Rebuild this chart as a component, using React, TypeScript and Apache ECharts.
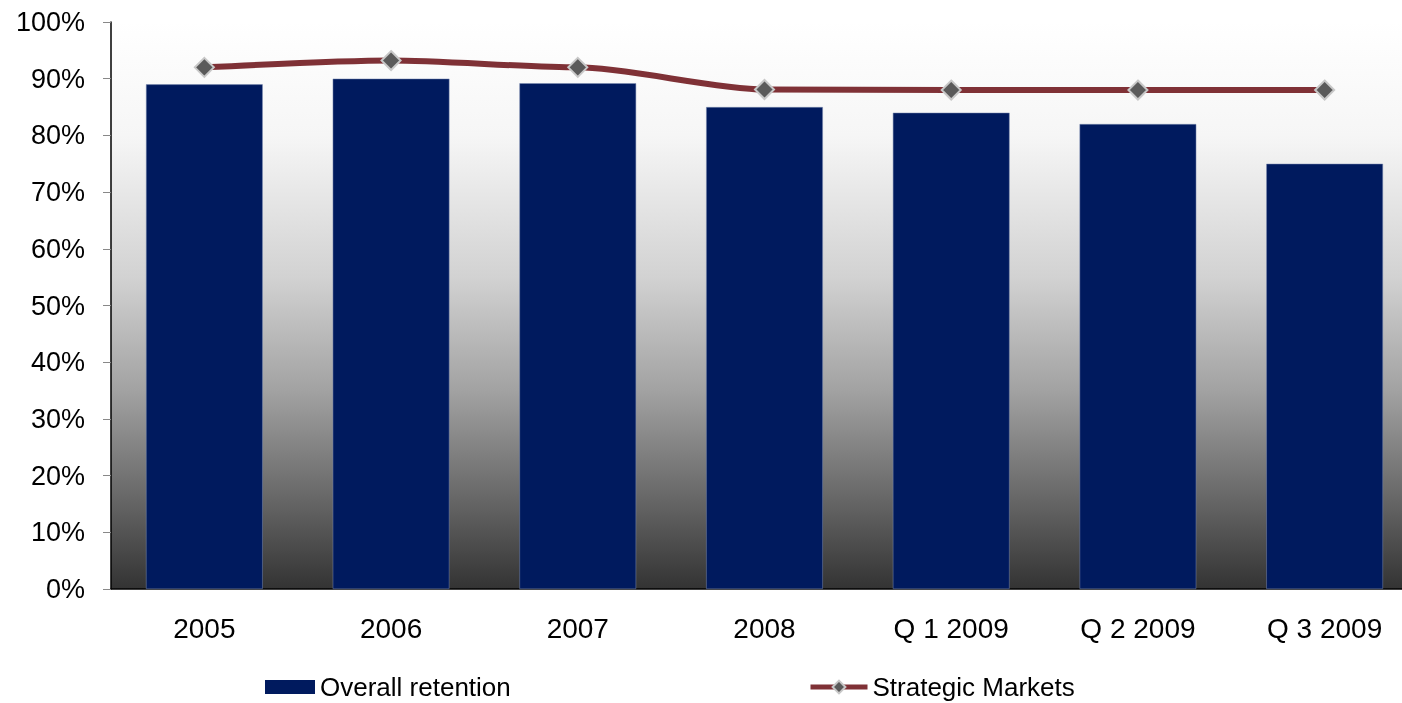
import React, { useEffect, useRef } from "react";
import * as echarts from "echarts";

const categories = ["2005", "2006", "2007", "2008", "Q 1 2009", "Q 2 2009", "Q 3 2009"];
const overallRetention = [89, 90, 89.2, 85, 84, 82, 75];
const strategicMarkets = [92, 93.2, 92, 88.1, 88, 88, 88];

const FONT = "'Liberation Sans', Arial, sans-serif";

export default function App() {
  const ref = useRef<HTMLDivElement>(null);
  useEffect(() => {
    if (!ref.current) return;
    const chart = echarts.init(ref.current, null, { renderer: "svg" });
    chart.setOption({
      animation: false,
      textStyle: { fontFamily: FONT },
      grid: {
        left: 111,
        right: 2,
        top: 22,
        bottom: 114,
        show: true,
        borderWidth: 0,
        backgroundColor: new echarts.graphic.LinearGradient(0, 0, 0, 1, [
          { offset: 0, color: "#ffffff" },
          { offset: 0.2, color: "#f6f6f6" },
          { offset: 0.45, color: "#d2d2d2" },
          { offset: 0.65, color: "#a2a2a2" },
          { offset: 0.85, color: "#646464" },
          { offset: 1, color: "#333333" },
        ]),
      },
      legend: [
        {
          data: [{ name: "Overall retention", icon: "rect", itemStyle: { borderWidth: 0 } }],
          left: 265,
          top: 673,
          itemWidth: 50,
          itemHeight: 14,
          itemGap: 0,
          padding: [0, 5, 0, 0],
          textStyle: { fontSize: 26, color: "#000", fontFamily: FONT, lineHeight: 28 },
        },
        {
          data: ["Strategic Markets"],
          left: 808,
          top: 673,
          itemWidth: 57,
          itemHeight: 16,
          padding: [0, 5, 0, 0],
          lineStyle: { width: 5 },
          textStyle: { fontSize: 26, color: "#000", fontFamily: FONT, lineHeight: 28 },
        },
      ],
      xAxis: {
        type: "category",
        data: categories,
        axisLine: { lineStyle: { color: "#000", width: 1.5 } },
        axisTick: { length: 8, lineStyle: { color: "#444" } },
        axisLabel: { fontSize: 28, color: "#000", margin: 25, fontFamily: FONT },
      },
      yAxis: {
        type: "value",
        min: 0,
        max: 100,
        interval: 10,
        axisLine: { show: true, lineStyle: { color: "#000", width: 1.5 } },
        axisTick: { show: true, length: 8, lineStyle: { color: "#888" } },
        splitLine: { show: false },
        axisLabel: { fontSize: 27, color: "#000", margin: 26, formatter: "{value}%", fontFamily: FONT },
      },
      series: [
        {
          name: "Overall retention",
          type: "bar",
          data: overallRetention,
          barCategoryGap: "37.5%",
          itemStyle: { color: "#001a5e", borderColor: "#7a8ab0", borderWidth: 0.5 },
        },
        {
          name: "Strategic Markets",
          type: "line",
          data: strategicMarkets,
          smooth: 0.25,
          smoothMonotone: "x",
          symbol: "diamond",
          symbolSize: 19,
          lineStyle: { color: "#7f3136", width: 6 },
          itemStyle: { color: "#5a5a5a", borderColor: "#c8c8c8", borderWidth: 2 },
        },
      ],
    });
    return () => chart.dispose();
  }, []);
  return <div ref={ref} style={{ position: "fixed", left: 0, top: 0, width: 1420, height: 703 }} />;
}
